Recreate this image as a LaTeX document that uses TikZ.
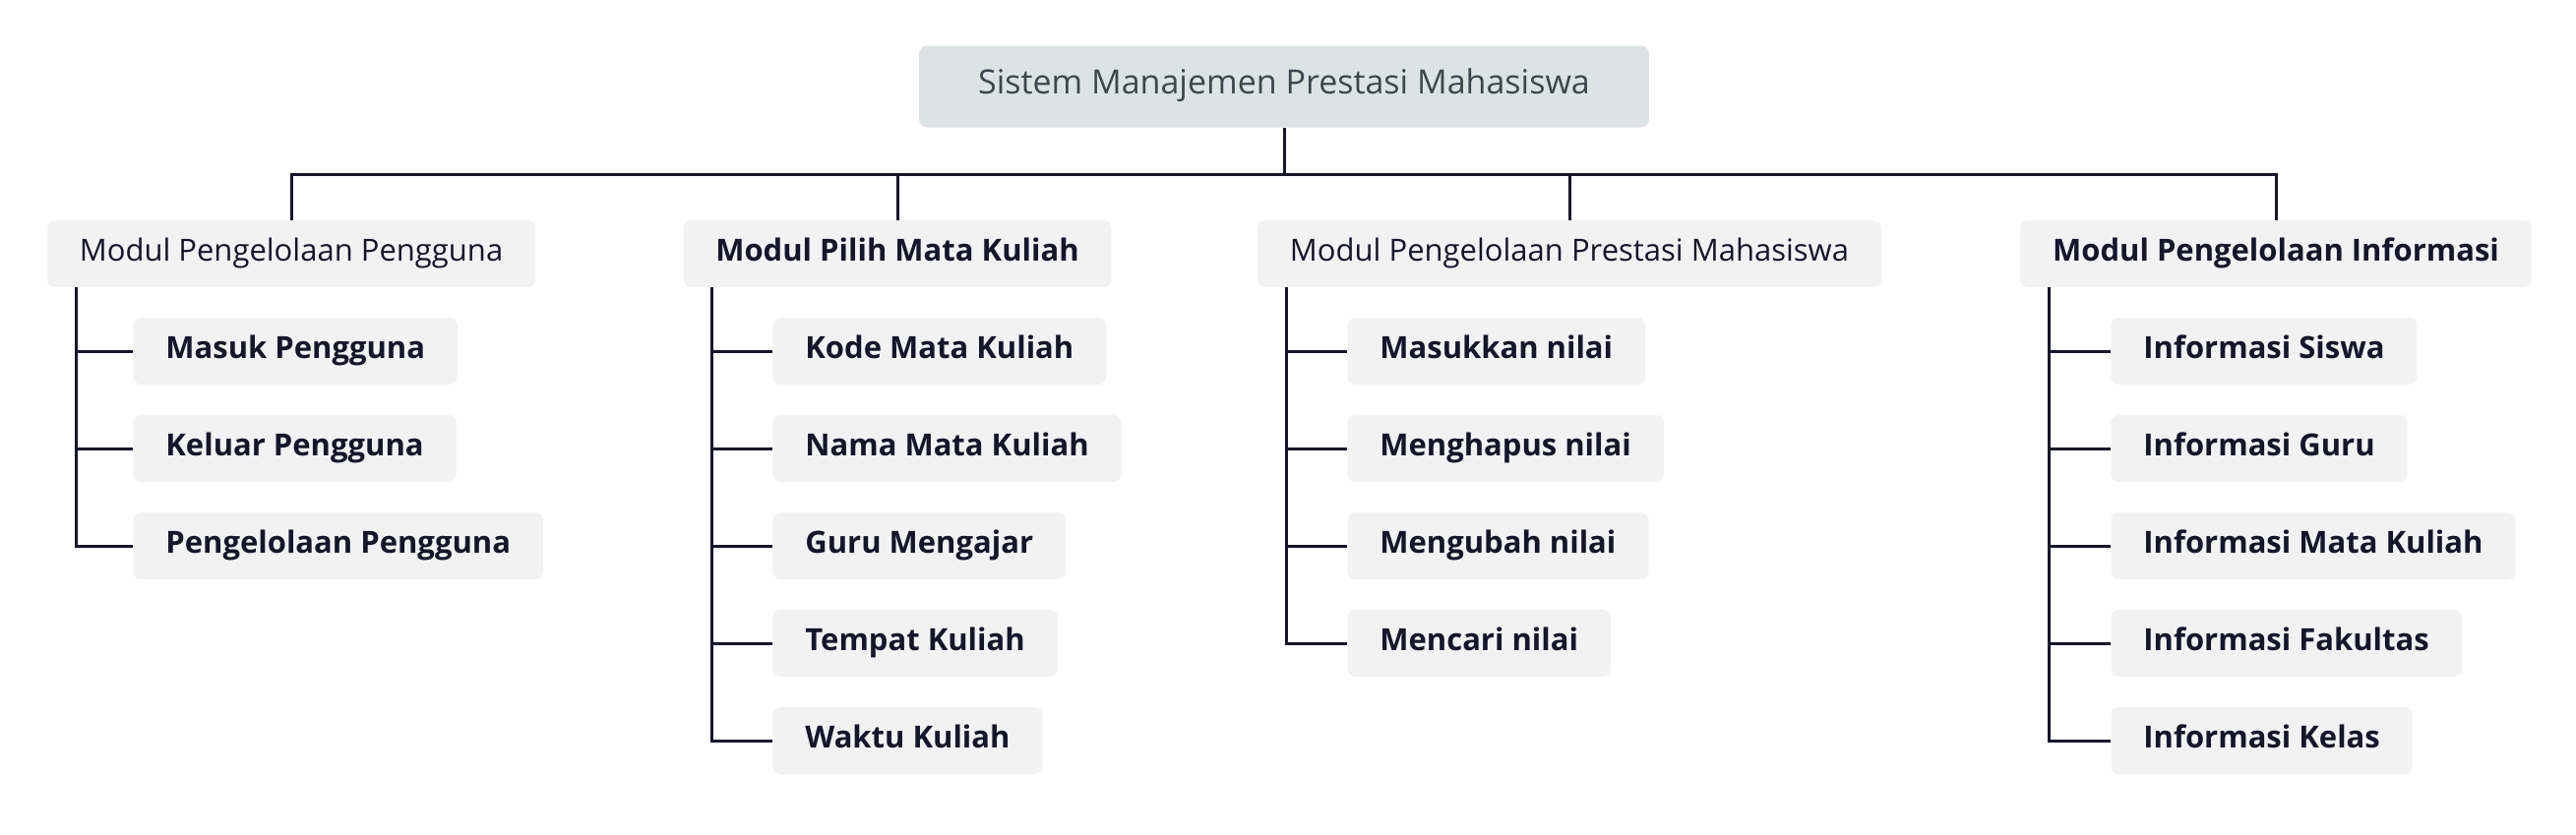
\documentclass[tikz,border=0pt]{standalone}
\usepackage{fontspec}
\setmainfont{Open Sans}
\usetikzlibrary{positioning}
\definecolor{pmInk}{HTML}{15152B}
\definecolor{pmRoot}{HTML}{DCE3E5}
\definecolor{pmRootText}{HTML}{3E474D}
\definecolor{pmFill}{HTML}{F2F2F3}
\tikzset{
  every picture/.style={font=\fontsize{15.5}{18}\selectfont, text=pmInk},
  pm root/.style={fill=pmRoot, text=pmRootText, rounded corners=4pt,
    minimum height=41.5pt, inner xsep=30pt, text height=0.72em, text depth=0pt,
    font=\fontsize{17}{20}\selectfont},
  pm topic/.style={fill=pmFill, rounded corners=4pt, minimum height=34pt,
    inner xsep=16.5pt, text height=0.72em, text depth=0pt},
  pm bold/.style={font=\fontsize{15.5}{18}\selectfont\bfseries},
  pm item/.style={pm topic, pm bold, anchor=west},
  pm line/.style={draw=pmInk, line width=1.5pt}
}

\begin{document}
\begin{tikzpicture}[x=0.5pt,y=-0.5pt]
  \useasboundingbox (0,0) rectangle (2618,848);
  \node[pm root] (root) at (1305,88) {Sistem Manajemen Prestasi Mahasiswa};
  \coordinate (bus) at (1305,177);

  \node[pm topic] (user) at (296,258) {Modul Pengelolaan Pengguna};
  \node[pm topic,pm bold] (course) at (912,258) {Modul Pilih Mata Kuliah};
  \node[pm topic] (grade) at (1595,258) {Modul Pengelolaan Prestasi Mahasiswa};
  \node[pm topic,pm bold] (info) at (2313,258) {Modul Pengelolaan Informasi};

  \draw[pm line] (root.south) -- (bus);
  \draw[pm line] (user.north) |- (bus) -| (info.north);
  \draw[pm line] (course.north) -- (course.north |- bus);
  \draw[pm line] (grade.north) -- (grade.north |- bus);

  % Modul Pengelolaan Pengguna
  \node[pm item] (u1) at (135,357) {Masuk Pengguna};
  \node[pm item] (u2) at (135,456) {Keluar Pengguna};
  \node[pm item] (u3) at (135,555) {Pengelolaan Pengguna};
  \draw[pm line] ([xshift=15pt]user.south west) |- (u1.west);
  \draw[pm line] ([xshift=15pt]user.south west) |- (u2.west);
  \draw[pm line] ([xshift=15pt]user.south west) |- (u3.west);

  % Modul Pilih Mata Kuliah
  \node[pm item] (c1) at (785,357) {Kode Mata Kuliah};
  \node[pm item] (c2) at (785,456) {Nama Mata Kuliah};
  \node[pm item] (c3) at (785,555) {Guru Mengajar};
  \node[pm item] (c4) at (785,654) {Tempat Kuliah};
  \node[pm item] (c5) at (785,753) {Waktu Kuliah};
  \draw[pm line] ([xshift=15pt]course.south west) |- (c1.west);
  \draw[pm line] ([xshift=15pt]course.south west) |- (c2.west);
  \draw[pm line] ([xshift=15pt]course.south west) |- (c3.west);
  \draw[pm line] ([xshift=15pt]course.south west) |- (c4.west);
  \draw[pm line] ([xshift=15pt]course.south west) |- (c5.west);

  % Modul Pengelolaan Prestasi Mahasiswa
  \node[pm item] (g1) at (1369,357) {Masukkan nilai};
  \node[pm item] (g2) at (1369,456) {Menghapus nilai};
  \node[pm item] (g3) at (1369,555) {Mengubah nilai};
  \node[pm item] (g4) at (1369,654) {Mencari nilai};
  \draw[pm line] ([xshift=15pt]grade.south west) |- (g1.west);
  \draw[pm line] ([xshift=15pt]grade.south west) |- (g2.west);
  \draw[pm line] ([xshift=15pt]grade.south west) |- (g3.west);
  \draw[pm line] ([xshift=15pt]grade.south west) |- (g4.west);

  % Modul Pengelolaan Informasi
  \node[pm item] (i1) at (2145,357) {Informasi Siswa};
  \node[pm item] (i2) at (2145,456) {Informasi Guru};
  \node[pm item] (i3) at (2145,555) {Informasi Mata Kuliah};
  \node[pm item] (i4) at (2145,654) {Informasi Fakultas};
  \node[pm item] (i5) at (2145,753) {Informasi Kelas};
  \draw[pm line] ([xshift=15pt]info.south west) |- (i1.west);
  \draw[pm line] ([xshift=15pt]info.south west) |- (i2.west);
  \draw[pm line] ([xshift=15pt]info.south west) |- (i3.west);
  \draw[pm line] ([xshift=15pt]info.south west) |- (i4.west);
  \draw[pm line] ([xshift=15pt]info.south west) |- (i5.west);
\end{tikzpicture}
\end{document}
